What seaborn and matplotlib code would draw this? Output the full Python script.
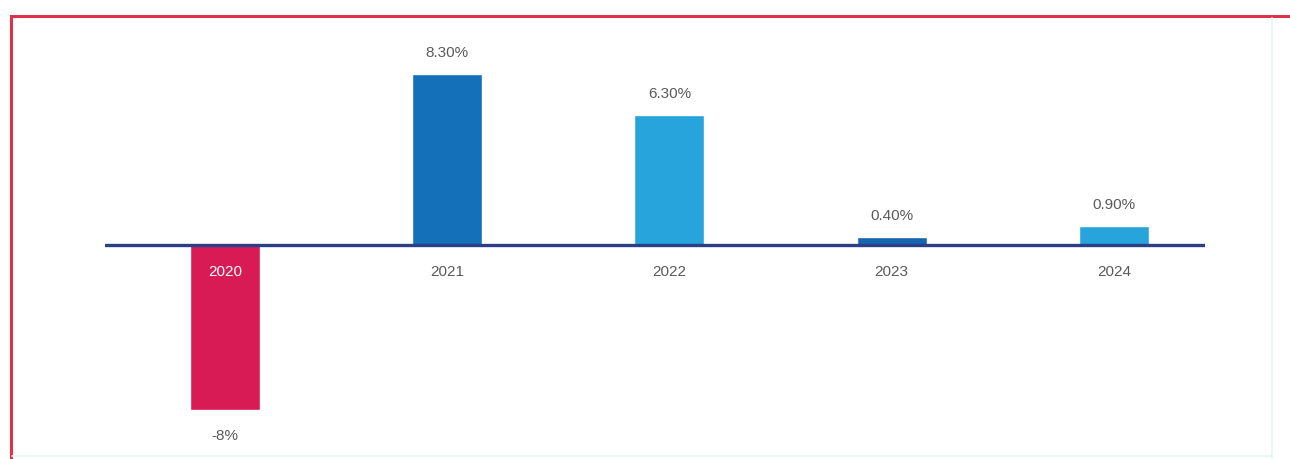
import matplotlib
matplotlib.use("Agg")
import matplotlib.pyplot as plt
from matplotlib.patches import Rectangle
from matplotlib.lines import Line2D
import pandas as pd
import seaborn as sns

years = ["2020", "2021", "2022", "2023", "2024"]
growth = [-8.0, 8.3, 6.3, 0.4, 0.9]
value_labels = ["-8%", "8.30%", "6.30%", "0.40%", "0.90%"]
bar_colors = ["#d81b55", "#1470b8", "#27a4dc", "#1565b0", "#27a4dc"]

sns.set_theme(style="white")
plt.rcParams["font.family"] = ["Liberation Sans", "DejaVu Sans"]

df = pd.DataFrame({"year": years, "growth": growth})

W, H = 1290, 460
fig = plt.figure(figsize=(W / 100, H / 100), dpi=100)
fig.patch.set_facecolor("white")

# axes placed so the zero line sits at y=246 px, spanning x=105..1205 px
ax = fig.add_axes([105 / W, 4 / H, 1100 / W, 436 / H])
sns.barplot(data=df, x="year", y="growth", hue="year", palette=bar_colors,
            width=0.315, dodge=False, legend=False, saturation=1, ax=ax)

ax.set_xlim(-0.54, 4.41)
ax.set_ylim(-10.19, 10.97)
ax.axhline(0, color="#2b3f86", lw=2.4, zorder=5)
ax.set_axis_off()

txt = dict(fontsize=11, color="#5a5a5a")
for i, (v, lab, yr) in enumerate(zip(growth, value_labels, years)):
    if v >= 0:
        ax.annotate(lab, (i, v), xytext=(0, 11), textcoords="offset points",
                    ha="center", va="bottom", **txt)
        ax.annotate(yr, (i, 0), xytext=(0, -14), textcoords="offset points",
                    ha="center", va="top", **txt)
    else:
        ax.annotate(lab, (i, v), xytext=(0, -13), textcoords="offset points",
                    ha="center", va="top", **txt)
        ax.annotate(yr, (i, 0), xytext=(0, -14), textcoords="offset points",
                    ha="center", va="top", fontsize=11, color="white",
                    zorder=6)

# red frame around the chart area (left and top edges visible)
fig.patches.append(Rectangle((11 / W, -0.1), 1.2, (H - 17) / H + 0.1,
                             transform=fig.transFigure, fill=False,
                             edgecolor="#e0304a", lw=2.2))
# faint mint guide lines at right and bottom
fig.lines.append(Line2D([1272 / W, 1272 / W], [0, (H - 19) / H],
                        transform=fig.transFigure, color="#e6f7f0", lw=1.2))
fig.lines.append(Line2D([12 / W, 1272 / W], [3 / H, 3 / H],
                        transform=fig.transFigure, color="#e6f7f0", lw=1.2))

fig.savefig("out.png", dpi=100, facecolor="white")
